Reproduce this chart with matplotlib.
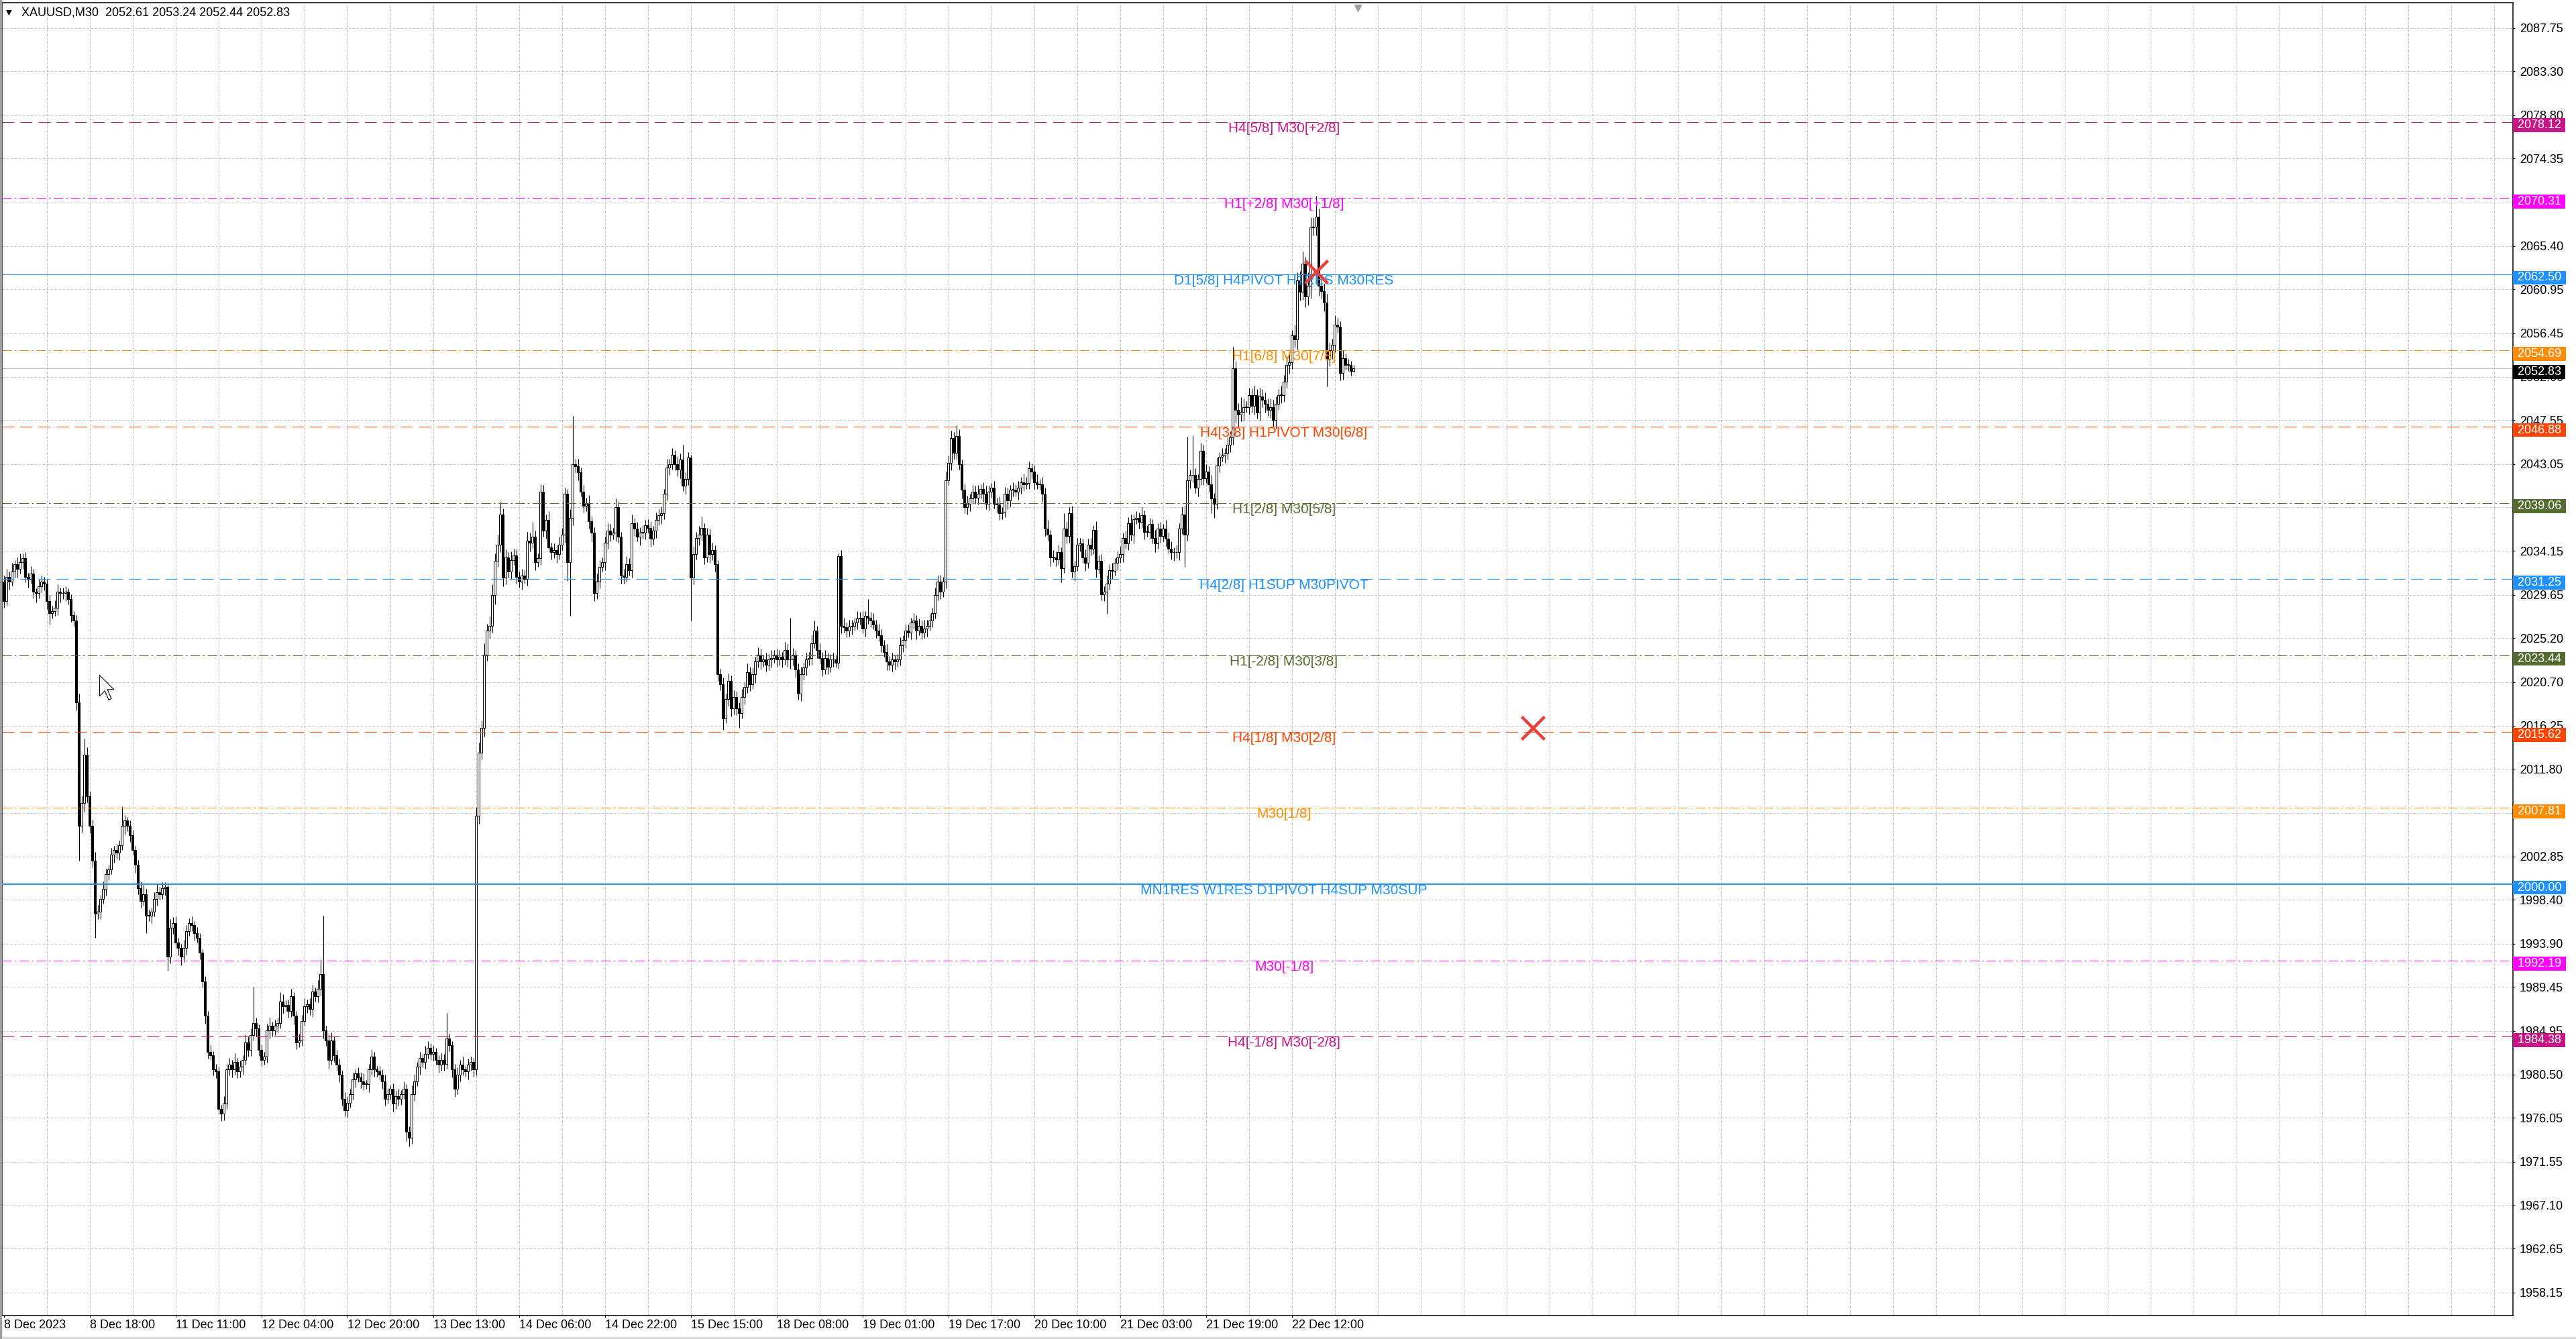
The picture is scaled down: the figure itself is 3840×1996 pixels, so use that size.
import numpy as np
import matplotlib
matplotlib.use('Agg')
import matplotlib.pyplot as plt
from matplotlib.path import Path

plt.rcParams['font.family'] = ['Liberation Sans', 'DejaVu Sans']

W, H = 3840, 1996

header = "XAUUSD,M30  2052.61 2053.24 2052.44 2052.83"

# M30 candles, opens follow previous close
first_open = 2031.0
closes = [
    2029.0, 2031.5, 2031.0, 2032.0, 2032.8, 2032.3, 2033.0, 2033.4, 2031.5, 2031.2, 2031.8, 2030.0, 2029.8, 2030.5, 2031.0, 2030.8,
    2029.0, 2027.8, 2028.0, 2028.3, 2030.0, 2029.8, 2029.8, 2030.0, 2029.2, 2027.6, 2027.0, 2018.6, 2006.0, 2008.3, 2013.3, 2009.0,
    2006.0, 2002.4, 1997.0, 1997.2, 1998.5, 1999.5, 2001.0, 2001.5, 2003.0, 2003.5, 2003.2, 2004.0, 2006.0, 2006.5, 2006.0, 2005.0,
    2003.5, 2002.0, 1999.6, 1998.3, 1999.0, 1996.8, 1996.8, 1997.2, 1998.5, 1999.2, 1999.0, 1999.6, 1999.7, 1992.6, 1995.5, 1996.0,
    1994.0, 1993.5, 1992.6, 1993.5, 1995.2, 1996.0, 1995.8, 1995.0, 1994.5, 1993.0, 1990.0, 1986.5, 1982.8, 1982.5, 1981.0, 1980.8,
    1977.0, 1976.5, 1977.5, 1981.0, 1981.5, 1981.0, 1981.8, 1980.8, 1981.3, 1982.0, 1983.8, 1983.0, 1984.5, 1985.8, 1985.2, 1983.0,
    1982.0, 1982.3, 1985.0, 1985.5, 1985.0, 1985.5, 1985.8, 1988.0, 1987.5, 1987.6, 1987.0, 1988.5, 1986.5, 1983.8, 1984.0, 1986.0,
    1987.5, 1987.7, 1987.2, 1989.0, 1988.5, 1989.3, 1990.8, 1985.0, 1984.0, 1982.0, 1984.0, 1982.5, 1981.5, 1980.5, 1978.0, 1976.8,
    1977.6, 1978.5, 1980.0, 1980.6, 1980.2, 1979.8, 1979.5, 1979.5, 1981.0, 1982.3, 1981.0, 1980.8, 1980.5, 1979.8, 1978.0, 1978.5,
    1979.0, 1977.5, 1978.3, 1978.0, 1978.5, 1979.0, 1974.6, 1974.0, 1978.5, 1979.8, 1981.3, 1982.2, 1981.8, 1982.6, 1983.2, 1982.6,
    1982.8, 1982.0, 1981.5, 1982.0, 1981.6, 1984.2, 1983.5, 1981.0, 1979.0, 1980.5, 1981.5, 1981.0, 1980.8, 1981.5, 1981.8, 1981.0,
    2007.0, 2013.5, 2016.0, 2023.5, 2026.0, 2026.5, 2029.6, 2033.1, 2034.8, 2037.9, 2031.4, 2033.5, 2032.0, 2033.2, 2033.7, 2031.5,
    2031.0, 2031.6, 2031.3, 2035.2, 2035.0, 2035.6, 2033.0, 2033.4, 2040.2, 2036.2, 2037.3, 2034.5, 2034.0, 2034.2, 2033.8, 2034.8,
    2035.8, 2040.0, 2033.0, 2037.5, 2043.0, 2042.8, 2042.2, 2040.2, 2038.8, 2039.0, 2037.2, 2036.0, 2029.8, 2031.0, 2032.5, 2033.0,
    2035.0, 2036.2, 2035.8, 2036.0, 2038.6, 2035.6, 2031.6, 2031.5, 2032.8, 2032.2, 2037.0, 2036.4, 2035.6, 2036.0, 2036.0, 2036.8,
    2036.5, 2035.4, 2036.2, 2037.3, 2037.8, 2038.0, 2040.0, 2042.7, 2043.0, 2044.0, 2043.0, 2042.5, 2043.5, 2040.8, 2041.5, 2043.7,
    2031.4, 2033.8, 2035.5, 2035.8, 2036.5, 2033.5, 2035.8, 2033.8, 2034.2, 2032.8, 2021.5, 2020.5, 2017.0, 2019.0, 2020.8, 2018.0,
    2019.2, 2018.0, 2017.5, 2019.2, 2020.2, 2021.7, 2020.5, 2021.5, 2022.8, 2023.5, 2022.8, 2023.0, 2022.5, 2023.0, 2023.2, 2023.5,
    2023.0, 2023.3, 2023.0, 2024.0, 2023.0, 2023.0, 2023.5, 2022.0, 2019.5, 2021.5, 2022.2, 2023.0, 2023.2, 2024.7, 2026.0, 2024.0,
    2023.2, 2022.0, 2023.2, 2022.3, 2023.0, 2023.0, 2022.7, 2033.6, 2026.5, 2026.3, 2026.0, 2026.4, 2026.5, 2026.8, 2027.2, 2027.3,
    2026.2, 2027.5, 2027.3, 2027.0, 2026.6, 2026.0, 2025.5, 2024.5, 2023.8, 2022.8, 2022.5, 2023.0, 2022.8, 2023.0, 2024.5, 2025.0,
    2026.0, 2025.8, 2026.8, 2027.0, 2026.0, 2026.5, 2025.8, 2026.2, 2026.5, 2027.0, 2027.8, 2029.6, 2031.0, 2030.0, 2031.0, 2041.4,
    2043.2, 2045.7, 2044.2, 2045.9, 2043.0, 2040.4, 2038.6, 2039.0, 2039.5, 2040.2, 2039.6, 2040.0, 2040.5, 2040.0, 2039.0, 2040.2,
    2040.6, 2039.0, 2038.9, 2038.0, 2038.1, 2040.0, 2039.3, 2040.4, 2040.4, 2040.2, 2040.6, 2041.2, 2041.0, 2041.1, 2042.6, 2042.3,
    2041.2, 2041.0, 2041.0, 2040.0, 2036.4, 2035.8, 2033.5, 2033.5, 2033.3, 2034.0, 2032.4, 2036.4, 2035.7, 2038.0, 2032.0, 2032.6,
    2034.8, 2034.9, 2033.5, 2032.9, 2034.8, 2034.4, 2036.3, 2032.3, 2033.1, 2029.7, 2030.0, 2030.8, 2032.2, 2032.1, 2032.9, 2033.5,
    2033.8, 2035.5, 2034.9, 2037.0, 2035.8, 2037.4, 2037.5, 2037.1, 2037.8, 2036.1, 2036.1, 2036.9, 2035.5, 2034.9, 2036.4, 2035.7,
    2036.4, 2035.4, 2034.4, 2034.0, 2034.0, 2034.0, 2036.4, 2037.9, 2035.8, 2041.35, 2041.9, 2041.9, 2040.6, 2041.5, 2044.4, 2041.6,
    2042.3, 2041.0, 2039.5, 2039.0, 2042.9, 2043.8, 2043.95, 2044.1, 2045.0, 2045.8, 2052.85, 2048.6, 2048.1, 2048.4, 2048.9, 2048.9,
    2050.1, 2049.0, 2050.1, 2048.3, 2050.0, 2049.6, 2049.2, 2048.6, 2048.9, 2047.6, 2049.2, 2050.1, 2050.1, 2051.5, 2053.2, 2053.5,
    2056.2, 2055.8, 2061.9, 2060.7, 2063.6, 2060.2, 2061.3, 2067.3, 2067.4, 2068.4, 2061.3, 2060.8, 2059.6, 2053.8, 2054.7, 2055.3,
    2057.3, 2057.1, 2052.4, 2053.9, 2053.2, 2053.2, 2052.61, 2052.83,
]

# wick lengths above / below the body
up_wick = [
    0.6, 0.8, 0.5, 0.9, 0.4, 0.7, 0.9, 0.5, 0.6, 0.4, 0.8, 0.5, 0.3, 0.7, 0.6, 0.5,
    0.4, 0.6, 0.5, 0.8, 0.7, 0.4, 0.6, 0.5, 0.3, 0.5, 0.4, 0.6, 0.9, 0.8, 1.6, 0.7,
    0.5, 0.6, 0.9, 0.7, 0.4, 0.8, 0.6, 0.5, 0.7, 0.4, 0.6, 0.5, 2.0, 0.6, 0.4, 0.5,
    0.6, 0.4, 0.5, 0.7, 0.9, 0.5, 0.6, 0.4, 0.7, 0.8, 0.5, 0.6, 0.5, 0.4, 0.9, 0.6,
    0.7, 0.5, 0.4, 0.8, 0.6, 0.5, 0.7, 0.4, 0.6, 0.5, 0.3, 0.6, 0.5, 0.7, 0.4, 0.6,
    0.5, 0.4, 0.8, 0.6, 0.7, 0.5, 0.9, 0.4, 0.6, 0.5, 0.8, 0.6, 0.7, 3.7, 0.5, 0.4,
    0.6, 0.5, 0.7, 0.8, 0.4, 0.6, 0.5, 0.9, 0.7, 0.5, 0.6, 0.8, 0.4, 0.5, 0.7, 0.6,
    0.8, 0.5, 0.6, 0.7, 0.4, 0.9, 1.5, 6.0, 0.5, 0.6, 0.8, 0.4, 0.5, 0.6, 0.4, 0.7,
    0.6, 0.5, 0.7, 0.4, 0.6, 0.5, 0.8, 0.4, 0.6, 0.7, 0.5, 0.4, 0.6, 0.5, 0.7, 0.6,
    0.4, 0.6, 0.5, 0.7, 0.4, 0.8, 0.5, 0.6, 0.9, 0.7, 0.5, 0.6, 0.4, 0.8, 0.7, 0.5,
    0.6, 0.4, 0.5, 0.7, 0.6, 2.6, 0.5, 0.4, 0.6, 0.7, 0.5, 0.8, 0.4, 0.6, 0.5, 0.4,
    0.9, 1.0, 0.8, 1.2, 0.7, 0.9, 1.1, 0.8, 1.0, 1.3, 0.6, 0.8, 0.5, 0.9, 0.7, 0.6,
    0.5, 0.7, 0.6, 0.9, 0.8, 1.5, 0.6, 0.5, 0.8, 0.7, 0.6, 0.9, 0.5, 0.7, 0.6, 0.8,
    0.7, 0.6, 0.5, 0.9, 5.0, 0.6, 0.8, 0.5, 0.7, 0.6, 0.9, 0.5, 0.6, 0.8, 0.7, 0.5,
    0.6, 0.8, 0.7, 0.5, 0.9, 0.6, 0.5, 0.7, 0.8, 0.6, 0.9, 0.5, 0.7, 0.6, 0.8, 0.5,
    0.6, 0.7, 0.5, 0.8, 0.6, 0.7, 0.5, 0.9, 0.6, 0.7, 0.5, 0.8, 0.6, 1.5, 0.7, 0.6,
    0.3, 0.8, 0.6, 0.9, 1.2, 0.5, 0.7, 0.6, 0.8, 0.5, 0.4, 0.6, 0.7, 0.5, 0.8, 0.6,
    0.7, 0.5, 0.6, 0.8, 0.5, 0.9, 0.6, 0.7, 0.5, 0.8, 0.6, 0.5, 0.7, 0.6, 0.8, 0.5,
    0.6, 0.7, 0.5, 0.8, 0.6, 4.3, 0.7, 0.5, 0.6, 0.8, 0.5, 0.7, 0.6, 0.9, 1.0, 0.5,
    0.7, 0.6, 0.8, 0.5, 0.6, 0.7, 0.5, 0.3, 0.6, 0.8, 0.5, 0.7, 0.6, 0.5, 0.8, 0.6,
    0.7, 0.5, 1.7, 0.6, 0.8, 0.5, 0.7, 0.6, 0.5, 0.8, 0.6, 0.7, 0.5, 0.6, 0.8, 0.5,
    0.7, 0.6, 0.5, 0.8, 0.6, 0.7, 0.5, 0.9, 0.6, 0.7, 0.5, 0.8, 0.6, 0.7, 0.5, 0.9,
    0.7, 0.8, 0.6, 1.1, 0.7, 0.5, 0.6, 0.8, 0.5, 0.7, 0.6, 0.9, 0.5, 0.7, 0.8, 0.6,
    0.5, 0.7, 0.6, 0.8, 0.5, 0.7, 0.6, 0.5, 0.8, 0.6, 0.7, 0.5, 0.9, 0.6, 0.7, 0.5,
    0.6, 0.8, 0.5, 0.7, 0.6, 0.9, 0.5, 0.7, 0.6, 0.8, 0.5, 1.6, 0.7, 0.6, 0.8, 0.5,
    0.7, 0.6, 0.5, 0.8, 0.6, 0.7, 0.5, 0.9, 0.6, 0.7, 0.5, 0.8, 0.6, 0.7, 0.5, 0.6,
    0.8, 0.5, 0.7, 0.6, 0.9, 0.5, 0.7, 0.6, 0.8, 0.5, 0.7, 0.6, 0.5, 0.8, 0.6, 0.7,
    0.5, 0.9, 0.6, 0.7, 0.5, 0.8, 0.6, 0.7, 0.9, 4.5, 0.6, 4.1, 0.7, 0.5, 0.8, 0.6,
    0.7, 0.5, 0.9, 0.6, 0.8, 0.5, 0.7, 0.6, 0.8, 0.6, 2.2, 0.8, 0.7, 1.5, 0.9, 0.6,
    0.8, 0.7, 1.0, 0.6, 0.9, 0.7, 0.8, 0.6, 0.9, 0.7, 0.8, 0.6, 1.0, 0.7, 0.9, 0.8,
    0.6, 1.1, 0.8, 0.9, 1.2, 0.7, 1.4, 1.0, 0.9, 2.1, 0.8, 1.0, 0.7, 0.9, 0.8, 0.6,
    1.0, 0.7, 0.6, 0.8, 0.5, 0.6, 0.4, 0.41,
]
dn_wick = [
    0.7, 0.5, 0.8, 0.4, 0.6, 0.9, 0.5, 0.7, 0.6, 0.8, 0.4, 0.7, 0.9, 0.5, 0.6, 0.7,
    0.8, 1.2, 0.6, 0.5, 0.7, 0.9, 0.6, 0.8, 0.5, 0.7, 0.6, 0.8, 3.6, 0.7, 0.9, 0.6,
    0.8, 0.7, 2.5, 0.6, 0.8, 0.5, 0.7, 0.6, 0.5, 0.8, 0.6, 0.7, 0.5, 0.9, 0.6, 0.7,
    0.5, 0.8, 0.6, 0.7, 0.5, 1.8, 0.6, 0.8, 0.5, 0.7, 0.6, 0.5, 0.8, 1.5, 0.7, 0.6,
    0.5, 0.8, 0.9, 0.6, 0.7, 0.5, 0.6, 0.8, 0.5, 0.7, 0.6, 0.8, 0.7, 0.5, 0.6, 0.7,
    0.6, 0.8, 0.7, 0.5, 0.6, 0.8, 0.5, 0.7, 0.6, 0.8, 0.5, 0.7, 0.6, 0.5, 0.8, 0.6,
    0.7, 0.5, 0.6, 0.8, 0.6, 0.5, 0.7, 0.6, 0.8, 0.5, 0.7, 0.6, 0.9, 0.7, 0.5, 0.6,
    0.5, 0.7, 0.6, 0.8, 0.5, 0.6, 0.7, 0.8, 0.6, 0.9, 0.5, 0.7, 0.6, 0.8, 0.7, 0.6,
    0.7, 0.5, 0.6, 0.8, 0.5, 0.7, 0.6, 0.5, 0.8, 0.6, 0.7, 0.5, 0.6, 0.8, 0.7, 0.5,
    0.6, 0.8, 0.5, 0.7, 0.6, 0.5, 0.9, 0.9, 0.6, 0.7, 0.5, 0.8, 0.6, 0.7, 0.5, 0.6,
    0.7, 0.5, 0.8, 0.6, 0.7, 0.5, 0.6, 0.8, 0.8, 0.5, 0.7, 0.6, 0.5, 0.8, 0.6, 0.7,
    0.6, 0.8, 0.7, 0.9, 0.6, 0.8, 0.7, 0.9, 0.6, 0.8, 0.9, 0.7, 0.6, 0.8, 0.5, 0.7,
    0.6, 0.8, 0.5, 0.7, 0.9, 0.6, 0.8, 0.5, 0.7, 0.6, 0.8, 0.5, 0.7, 0.6, 0.9, 0.5,
    0.6, 0.8, 1.9, 5.5, 0.7, 0.6, 0.8, 0.5, 0.7, 0.6, 0.8, 0.9, 0.8, 0.6, 0.7, 0.5,
    0.8, 0.6, 0.7, 0.5, 0.9, 0.6, 0.8, 0.7, 0.5, 0.6, 0.8, 0.7, 0.5, 0.9, 0.6, 0.7,
    0.5, 0.8, 0.6, 0.7, 0.5, 0.9, 0.6, 0.7, 0.8, 0.5, 0.6, 0.7, 0.9, 0.5, 0.8, 0.6,
    4.4, 0.7, 0.5, 0.8, 0.6, 0.7, 0.5, 0.9, 0.6, 0.8, 0.7, 0.6, 1.2, 0.5, 0.7, 0.8,
    0.6, 0.7, 1.5, 0.5, 0.8, 0.6, 0.7, 0.5, 0.9, 0.6, 0.8, 0.5, 0.7, 0.6, 0.8, 0.5,
    0.7, 0.6, 0.8, 0.5, 0.7, 0.9, 0.6, 0.8, 0.6, 0.7, 0.5, 0.8, 0.6, 0.7, 0.5, 0.8,
    0.6, 0.7, 0.5, 0.8, 0.6, 0.7, 0.5, 0.6, 0.8, 0.5, 0.7, 0.6, 0.8, 0.5, 0.7, 0.6,
    0.5, 0.8, 0.6, 0.7, 0.5, 0.8, 0.6, 0.7, 0.5, 0.9, 0.6, 0.7, 0.8, 0.5, 0.6, 0.7,
    0.8, 0.5, 0.7, 0.6, 0.9, 0.5, 0.7, 0.6, 0.8, 0.5, 0.7, 0.6, 0.5, 0.8, 0.6, 0.7,
    0.5, 0.8, 0.6, 0.7, 0.5, 0.9, 0.6, 0.7, 0.8, 0.5, 0.6, 0.7, 0.5, 0.8, 0.6, 0.7,
    0.6, 0.5, 0.8, 0.7, 0.6, 0.5, 0.9, 0.6, 0.7, 0.5, 0.8, 0.6, 0.7, 0.5, 0.6, 0.8,
    0.7, 0.5, 0.6, 0.8, 0.7, 0.6, 0.9, 0.5, 0.7, 0.6, 1.5, 0.5, 0.8, 0.7, 0.6, 0.9,
    0.5, 0.7, 0.6, 0.8, 0.5, 0.7, 0.6, 0.9, 0.5, 0.6, 0.7, 2.3, 0.6, 0.8, 0.5, 0.7,
    0.6, 0.8, 0.5, 0.7, 0.6, 0.9, 0.5, 0.7, 0.6, 0.8, 0.5, 0.7, 0.6, 0.9, 0.5, 0.7,
    0.6, 0.8, 0.5, 0.7, 0.9, 0.6, 0.8, 0.5, 3.3, 0.6, 0.8, 0.7, 0.5, 0.9, 0.6, 0.7,
    0.5, 0.8, 1.5, 1.5, 0.6, 0.7, 0.5, 0.8, 0.6, 0.7, 0.8, 1.3, 1.2, 0.7, 0.9, 0.6,
    0.8, 0.7, 0.9, 0.6, 0.8, 0.7, 0.9, 0.6, 0.8, 0.7, 0.9, 0.6, 0.8, 0.7, 0.6, 0.9,
    0.7, 0.8, 1.0, 0.9, 0.8, 1.1, 0.9, 1.3, 0.8, 0.9, 1.0, 0.8, 0.9, 2.8, 0.7, 0.9,
    0.8, 0.6, 0.8, 0.7, 0.5, 0.6, 0.5, 0.17,
]

time_tick_bars = [0, 32, 64, 96, 128, 160, 192, 224, 256, 288, 320, 352, 384, 416, 448, 480]
time_tick_labels = ["8 Dec 2023", "8 Dec 18:00", "11 Dec 11:00", "12 Dec 04:00", "12 Dec 20:00",
                    "13 Dec 13:00", "14 Dec 06:00", "14 Dec 22:00", "15 Dec 15:00", "18 Dec 08:00",
                    "19 Dec 01:00", "19 Dec 17:00", "20 Dec 10:00", "21 Dec 03:00", "21 Dec 19:00",
                    "22 Dec 12:00"]

price_ticks = [2087.75, 2083.30, 2078.80, 2074.35, 2069.85, 2065.40, 2060.95, 2056.45, 2052.00,
               2047.55, 2043.05, 2038.60, 2034.15, 2029.65, 2025.20, 2020.70, 2016.25, 2011.80,
               2007.30, 2002.85, 1998.40, 1993.90, 1989.45, 1984.95, 1980.50, 1976.05, 1971.55,
               1967.10, 1962.65, 1958.15]
# tick labels fully covered by level price boxes in the terminal
hidden_tick_labels = [2069.85, 2038.60, 2007.30]

# Murrey math levels
levels = [2078.12, 2070.31, 2062.50, 2054.69, 2046.88, 2039.06, 2031.25,
          2023.44, 2015.62, 2007.81, 2000.00, 1992.19, 1984.38]
level_names = ["H4[5/8] M30[+2/8]", "H1[+2/8] M30[+1/8]", "D1[5/8] H4PIVOT H1RES M30RES",
               "H1[6/8] M30[7/8]", "H4[3/8] H1PIVOT M30[6/8]", "H1[2/8] M30[5/8]",
               "H4[2/8] H1SUP M30PIVOT", "H1[-2/8] M30[3/8]", "H4[1/8] M30[2/8]", "M30[1/8]",
               "MN1RES W1RES D1PIVOT H4SUP M30SUP", "M30[-1/8]", "H4[-1/8] M30[-2/8]"]
level_colors = ["#C71585", "#FF00FF", "#1E90FF", "#FF8C00", "#FF4500", "#556B2F", "#1E90FF",
                "#556B2F", "#FF4500", "#FF8C00", "#1E90FF", "#FF00FF", "#C71585"]
level_styles = ["dash", "dashdot", "solid", "dashdot", "dash", "dashdot", "dash",
                "dashdot", "dash", "dashdot", "thick", "dashdot", "dash"]

bid_price = 2052.83
cross_bars = [489.2, 569.9]
cross_prices = [2062.76, 2016.0]
cursor_bar, cursor_price = 35.55, 2021.47
shift_bar = 504.5
label_bar = 477.1

# ---- candles ----
n = min(len(closes), len(up_wick), len(dn_wick))
c = np.array(closes[:n])
o = np.concatenate([[first_open], c[:-1]])
hi = np.maximum(o, c) + np.array(up_wick[:n])
lo = np.minimum(o, c) - np.array(dn_wick[:n])
idx = np.arange(n)
bull = c >= o
body = np.maximum(np.abs(c - o), 0.06)

fig = plt.figure(figsize=(W / 100, H / 100), dpi=100, facecolor='white')
ax = fig.add_axes([3 / W, (H - 1961) / H, 3743 / W, (1961 - 4) / H])
ax.set_facecolor('white')

y_top = 2000 + (1318 - 4) / 14.547
y_bot = 2000 - (1961 - 1318) / 14.547
ax.set_ylim(y_bot, y_top)
ax.set_xlim((3 - 5.5) / 4, (3746 - 5.5) / 4)

px = 0.72  # one pixel in points
grid_style = (0, (3.3, 2.7))
for p in price_ticks:
    ax.axhline(p, color='#c0c0c0', lw=px, ls=grid_style, zorder=0)
for b in range(16, 936, 16):
    ax.axvline(b, color='#c0c0c0', lw=px, ls=grid_style, zorder=0)

ax.axhline(bid_price, color='#c0c0c0', lw=px, zorder=1)

ax.vlines(idx, lo, hi, color='black', lw=px * 1.1, zorder=3)
ax.bar(idx[bull], body[bull], bottom=o[bull], width=0.55, facecolor='white',
       edgecolor='black', linewidth=px, zorder=4)
ax.bar(idx[~bull], body[~bull], bottom=c[~bull], width=0.55, facecolor='black',
       edgecolor='black', linewidth=px, zorder=4)

dash_map = {"dash": (0, (18, 9)), "dashdot": (0, (14, 4.5, 2.5, 4.5)),
            "solid": "-", "thick": "-"}
for lvl, name, col, st in zip(levels, level_names, level_colors, level_styles):
    lw = px * 2 if st == "thick" else px
    ax.axhline(lvl, color=col, lw=lw, ls=dash_map[st], zorder=5)
    ax.text(label_bar, lvl, name, color=col, fontsize=15, ha='center', va='top', zorder=6)

# price boxes on the right scale
def price_box(price, color):
    ax.annotate(f" {price:.2f} ", xy=(1, price), xycoords=('axes fraction', 'data'),
                xytext=(1.2, -3.6), textcoords='offset points', ha='left', va='center',
                fontsize=13, color='white', annotation_clip=False, zorder=10,
                bbox=dict(boxstyle='square,pad=0.1', fc=color, ec='none'))

for lvl, col in zip(levels, level_colors):
    price_box(lvl, col)
price_box(bid_price, 'black')

# red crosses
ax.plot(cross_bars, cross_prices, 'x', ms=24, mew=3.3, color='#e8403c', zorder=8)

# mouse cursor
cursor = Path([(0, 0), (0, -16), (4, -12), (7, -19), (9, -18), (6, -11), (11, -11), (0, 0)],
              [Path.MOVETO] + [Path.LINETO] * 6 + [Path.CLOSEPOLY])
ax.plot([cursor_bar], [cursor_price], marker=cursor, ms=53, mfc='white', mec='black',
        mew=0.8, zorder=9)

# chart shift marker
ax.plot([shift_bar], [0.996], marker='v', ms=7, color='#a0a0a0',
        transform=ax.get_xaxis_transform(), clip_on=False, zorder=9)

# axes, ticks
ax.yaxis.tick_right()
ax.set_yticks(price_ticks)
ax.set_yticklabels(["" if p in hidden_tick_labels else f"{p:.2f}" for p in price_ticks])
ax.tick_params(axis='y', direction='out', length=2.4, width=px, pad=4.6, labelsize=13,
               colors='black')
ax.set_xticks(time_tick_bars)
ax.set_xticklabels(time_tick_labels, ha='left')
ax.tick_params(axis='x', direction='out', length=2.2, width=px, pad=1.9, labelsize=13)
for s in ax.spines.values():
    s.set_linewidth(1.1)
    s.set_color('black')

# header
fig.text(32 / W, 1 - 24 / H, header, fontsize=13, va='baseline', color='black')
fig.text(9 / W, 1 - 22 / H, "\u25bc", fontsize=8, va='baseline', family='DejaVu Sans')

# window border bits
fig.patches.append(plt.Rectangle((0, 0), 1, 3 / H, transform=fig.transFigure,
                                 color='#d8d8d8', zorder=0))
fig.patches.append(plt.Rectangle((0, 0), 1.5 / W, 1, transform=fig.transFigure,
                                 color='#a0a0a0', zorder=0))

fig.savefig('out.png', dpi=100, facecolor='white')
